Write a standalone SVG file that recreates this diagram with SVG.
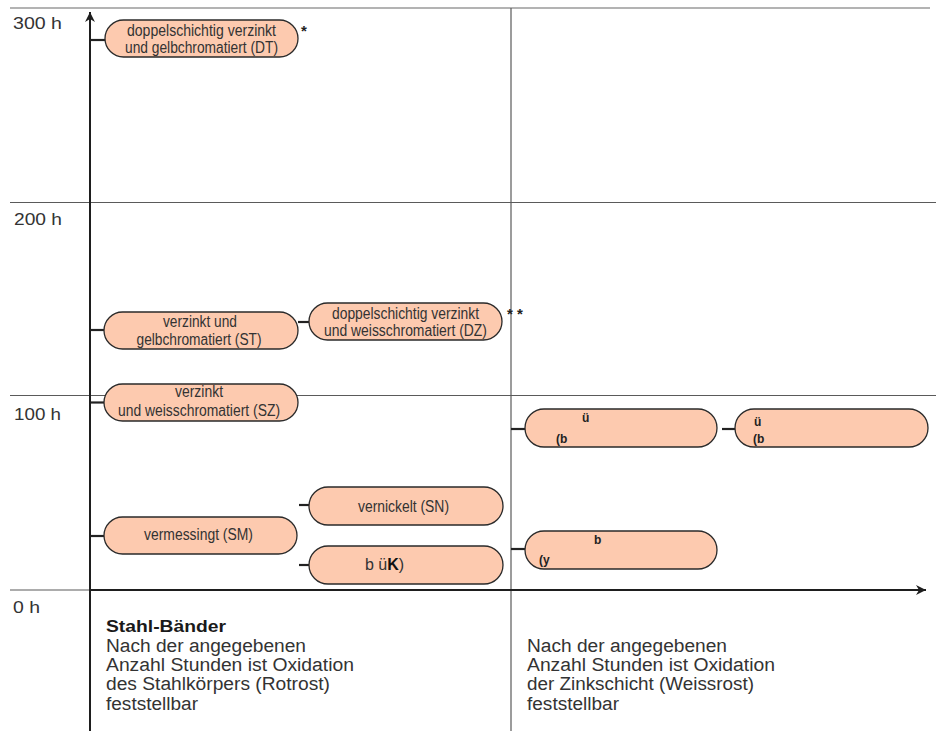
<svg xmlns="http://www.w3.org/2000/svg" width="936" height="731" viewBox="0 0 936 731">
<defs>
<style>
.grid{stroke:#5a5a5a;stroke-width:1.2;fill:none}
.gridtop{stroke:#9a9a9a;stroke-width:1.5;fill:none}
.axis{stroke:#1e1e1e;stroke-width:2;fill:none}
.conn{stroke:#222;stroke-width:2.2;fill:none}
.pill{fill:#fdcaaf;stroke:#2a2a2a;stroke-width:1.3}
.nt{font-family:"Liberation Sans Narrow","Liberation Sans",Arial,sans-serif;font-size:16px;fill:#333;text-anchor:middle}
.lbl{font-family:"Liberation Sans",Arial,sans-serif;font-size:17px;fill:#333}
.body{font-family:"Liberation Sans",Arial,sans-serif;font-size:18px;fill:#333}
.bold{font-family:"Liberation Sans",Arial,sans-serif;font-size:17px;font-weight:bold;fill:#1a1a1a}
.ast{font-family:"Liberation Sans",Arial,sans-serif;font-size:15px;font-weight:bold;fill:#222}
.gl{font-family:"Liberation Sans",Arial,sans-serif;font-size:12px;font-weight:bold;fill:#222}
</style>
<marker id="arr" viewBox="0 0 10 10" refX="10" refY="5" markerWidth="10" markerHeight="10" markerUnits="userSpaceOnUse" orient="auto">
<path d="M0,0 L10,5 L0,10 L3,5 Z" fill="#1e1e1e"/>
</marker>
</defs>
<rect width="936" height="731" fill="#fff"/>
<g id="grid">
<line class="gridtop" x1="10" y1="8" x2="930" y2="8"/>
<line class="grid" x1="10" y1="202.5" x2="936" y2="202.5"/>
<line class="grid" x1="10" y1="395.5" x2="936" y2="395.5"/>
<line class="grid" x1="10" y1="590" x2="90" y2="590"/>
<line class="grid" x1="511" y1="8" x2="511" y2="731"/>
</g>
<g id="axis-labels">
<text class="lbl" x="13" y="29" textLength="49" lengthAdjust="spacingAndGlyphs">300 h</text>
<text class="lbl" x="14" y="225" textLength="48" lengthAdjust="spacingAndGlyphs">200 h</text>
<text class="lbl" x="14" y="420" textLength="47" lengthAdjust="spacingAndGlyphs">100 h</text>
<text class="lbl" x="13" y="613" textLength="27" lengthAdjust="spacingAndGlyphs">0 h</text>
</g>
<g id="connectors">
<line class="conn" x1="90" y1="40" x2="105" y2="40"/>
<line class="conn" x1="90" y1="330" x2="104" y2="330"/>
<line class="conn" x1="298" y1="322" x2="309" y2="322"/>
<line class="conn" x1="90" y1="402.5" x2="104" y2="402.5"/>
<line class="conn" x1="90" y1="536" x2="104" y2="536"/>
<line class="conn" x1="299" y1="505" x2="309" y2="505"/>
<line class="conn" x1="299" y1="565" x2="309" y2="565"/>
<line class="conn" x1="511" y1="429" x2="525" y2="429"/>
<line class="conn" x1="722" y1="429" x2="735" y2="429"/>
<line class="conn" x1="511" y1="549" x2="525" y2="549"/>
</g>
<g id="node-DT">
<rect class="pill" x="105" y="20" width="193" height="37" rx="18.5"/>
<text class="nt" x="201.5" y="36" textLength="149" lengthAdjust="spacingAndGlyphs">doppelschichtig verzinkt</text>
<text class="nt" x="201.5" y="53" textLength="153" lengthAdjust="spacingAndGlyphs">und gelbchromatiert (DT)</text>
<text class="ast" x="301" y="36">*</text>
</g>
<g id="node-ST">
<rect class="pill" x="104" y="312" width="194" height="37" rx="18.5"/>
<text class="nt" x="200" y="327" textLength="74" lengthAdjust="spacingAndGlyphs">verzinkt und</text>
<text class="nt" x="199" y="345" textLength="125" lengthAdjust="spacingAndGlyphs">gelbchromatiert (ST)</text>
</g>
<g id="node-DZ">
<rect class="pill" x="309" y="303" width="193" height="37" rx="18.5"/>
<text class="nt" x="405.5" y="319" textLength="147" lengthAdjust="spacingAndGlyphs">doppelschichtig verzinkt</text>
<text class="nt" x="405.5" y="336" textLength="163" lengthAdjust="spacingAndGlyphs">und weisschromatiert (DZ)</text>
<text class="ast" x="507" y="319">*</text>
<text class="ast" x="517" y="319">*</text>
</g>
<g id="node-SZ">
<rect class="pill" x="104" y="384" width="194" height="37" rx="18.5"/>
<text class="nt" x="199" y="397" textLength="48" lengthAdjust="spacingAndGlyphs">verzinkt</text>
<text class="nt" x="199" y="416" textLength="162" lengthAdjust="spacingAndGlyphs">und weisschromatiert (SZ)</text>
</g>
<g id="node-SM">
<rect class="pill" x="104" y="517" width="193" height="37" rx="18.5"/>
<text class="nt" x="198.5" y="540" textLength="109" lengthAdjust="spacingAndGlyphs">vermessingt (SM)</text>
</g>
<g id="node-SN">
<rect class="pill" x="309" y="487" width="194" height="38" rx="19"/>
<text class="nt" x="403.5" y="512" textLength="91" lengthAdjust="spacingAndGlyphs">vernickelt (SN)</text>
</g>
<g id="node-SX">
<rect class="pill" x="309" y="546" width="194" height="38" rx="19"/>
<text class="nt" x="365" y="570" style="text-anchor:start">b ü<tspan font-weight="bold" fill="#111">K</tspan>)</text>
</g>
<g id="node-RA">
<rect class="pill" x="525" y="409" width="192" height="38" rx="19"/>
<text class="gl" x="582" y="422">ü</text>
<text class="gl" x="556" y="443">(b</text>
</g>
<g id="node-RB">
<rect class="pill" x="735" y="409" width="193" height="38" rx="19"/>
<text class="gl" x="754" y="426">ü</text>
<text class="gl" x="753" y="443">(b</text>
</g>
<g id="node-RC">
<rect class="pill" x="525" y="531" width="192" height="38" rx="19"/>
<text class="gl" x="594" y="544">b</text>
<text class="gl" x="539" y="564">(y</text>
</g>
<g id="axes">
<line class="axis" x1="90" y1="731" x2="90" y2="12" marker-end="url(#arr)"/>
<line class="axis" x1="90" y1="590" x2="926" y2="590" marker-end="url(#arr)"/>
</g>
<g id="legend-left">
<text class="bold" x="106" y="632" textLength="120" lengthAdjust="spacingAndGlyphs">Stahl-Bänder</text>
<text class="body" x="106" y="652" textLength="200" lengthAdjust="spacingAndGlyphs">Nach der angegebenen</text>
<text class="body" x="106" y="671" textLength="248" lengthAdjust="spacingAndGlyphs">Anzahl Stunden ist Oxidation</text>
<text class="body" x="106" y="690" textLength="224" lengthAdjust="spacingAndGlyphs">des Stahlkörpers (Rotrost)</text>
<text class="body" x="106" y="710" textLength="92" lengthAdjust="spacingAndGlyphs">feststellbar</text>
</g>
<g id="legend-right">
<text class="body" x="527" y="652" textLength="200" lengthAdjust="spacingAndGlyphs">Nach der angegebenen</text>
<text class="body" x="527" y="671" textLength="248" lengthAdjust="spacingAndGlyphs">Anzahl Stunden ist Oxidation</text>
<text class="body" x="527" y="690" textLength="227" lengthAdjust="spacingAndGlyphs">der Zinkschicht (Weissrost)</text>
<text class="body" x="527" y="710" textLength="92" lengthAdjust="spacingAndGlyphs">feststellbar</text>
</g>
</svg>
